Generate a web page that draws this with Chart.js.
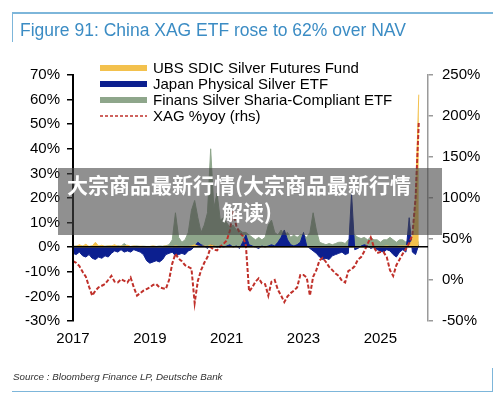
<!DOCTYPE html>
<html>
<head>
<meta charset="utf-8">
<script src="https://cdn.jsdelivr.net/npm/chart.js@4.4.1/dist/chart.umd.min.js"></script>
<style>
  html, body { margin: 0; padding: 0; background: #fff; overflow: hidden; }
  #wrap { position: relative; width: 500px; height: 404px; font-family: "Liberation Sans", Arial, sans-serif; }
  #wrap canvas { position: absolute; left: 0; top: 0; }
  .rule { position: absolute; background: #7db6da; }
  #title { position: absolute; left: 20px; top: 20px; font-size: 17.5px; line-height: 20px; color: #3b8cc4; white-space: nowrap; }
  .leg { position: absolute; left: 100px; height: 16px; display: flex; align-items: center; font-size: 15px; line-height: 16px; color: #000; white-space: nowrap; }
  .leg .sw { width: 47px; height: 6px; margin-right: 6px; }
  .leg svg { margin-right: 6px; }
  #source { position: absolute; left: 13px; top: 371px; font-size: 9.8px; line-height: 12px; font-style: italic; color: #333; white-space: nowrap; }
  #band { position: absolute; left: 58px; top: 168px; width: 384px; height: 67px; background: rgba(70, 70, 70, 0.6); }
  .wm { position: absolute; font-family: "Noto Sans CJK SC", sans-serif; font-weight: 700; font-size: 21px; line-height: 27px; color: #fff; white-space: nowrap; }
</style>
</head>
<body>
<div id="wrap">
  <canvas id="chart"></canvas>
  <div class="rule" style="left:12px; top:12px; width:481px; height:1.6px;"></div>
  <div class="rule" style="left:11.5px; top:12px; width:1.6px; height:30px;"></div>
  <div id="title">Figure 91: China XAG ETF rose to 62% over NAV</div>

  <div class="leg" style="top:60px;"><div class="sw" style="background:#f3c14d"></div>UBS SDIC Silver Futures Fund</div>
  <div class="leg" style="top:76px;"><div class="sw" style="background:#0c1f8f"></div>Japan Physical Silver ETF</div>
  <div class="leg" style="top:92px;"><div class="sw" style="background:#8ea68b"></div>Finans Silver Sharia-Compliant ETF</div>
  <div class="leg" style="top:108px;"><svg width="47" height="4"><line x1="0" y1="2" x2="47" y2="2" stroke="#c0302a" stroke-width="1.4" stroke-dasharray="3,2"/></svg>XAG %yoy (rhs)</div>

  <div id="band"></div>
  <div class="wm" style="left:67px; top:171px;">大宗商品最新行情(大宗商品最新行情</div>
  <div class="wm" style="left:222px; top:198px;">解读)</div>

  <div id="source">Source : Bloomberg Finance LP, Deutsche Bank</div>
  <div class="rule" style="left:12px; top:390.8px; width:481px; height:1.6px;"></div>
  <div class="rule" style="left:491.5px; top:368px; width:1.6px; height:24px;"></div>
</div>
<script>
// monthly observations, Jan 2017 .. Jan 2026
const months = [
  '2017-01','2017-02','2017-03','2017-04','2017-05','2017-06','2017-07','2017-08','2017-09','2017-10','2017-11','2017-12',
  '2018-01','2018-02','2018-03','2018-04','2018-05','2018-06','2018-07','2018-08','2018-09','2018-10','2018-11','2018-12',
  '2019-01','2019-02','2019-03','2019-04','2019-05','2019-06','2019-07','2019-08','2019-09','2019-10','2019-11','2019-12',
  '2020-01','2020-02','2020-03','2020-04','2020-05','2020-06','2020-07','2020-08','2020-09','2020-10','2020-11','2020-12',
  '2021-01','2021-02','2021-03','2021-04','2021-05','2021-06','2021-07','2021-08','2021-09','2021-10','2021-11','2021-12',
  '2022-01','2022-02','2022-03','2022-04','2022-05','2022-06','2022-07','2022-08','2022-09','2022-10','2022-11','2022-12',
  '2023-01','2023-02','2023-03','2023-04','2023-05','2023-06','2023-07','2023-08','2023-09','2023-10','2023-11','2023-12',
  '2024-01','2024-02','2024-03','2024-04','2024-05','2024-06','2024-07','2024-08','2024-09','2024-10','2024-11','2024-12',
  '2025-01','2025-02','2025-03','2025-04','2025-05','2025-06','2025-07','2025-08','2025-09','2025-10','2025-11','2025-12',
  '2026-01'
];

// premium over NAV, % (lhs)
const ubsSdic = [
  0.5, 0.3, 1, 0.4, 1.2, 0.3, 0.5, 2, 0.4, 0.8, 0.3, 0.5,
  0.5, 1, 0.3, 0.5, 0.4, 0.8, 0.3, 0.5, 0.3, 0.4, 0.3, 0.3,
  0.3, 0.5, 0.3, 0.2, 0.3, 0.5, 0.3, 0.2, 0.5, 0.3, 0.2, 0.3,
  0.3, 0.5, 1, 0.5, 0.3, 0.5, 0.3, 1, 0.5, 0.3, 0.2, 0.3,
  0.2, 0.2, 0.2, 0.2, 0.2, 0.2, 0.2, 0.2, 0.2, 0.2, 0.2, 0.2,
  0.2, 0.2, 0.2, 0.2, 0.2, 0.2, 0.2, 0.2, 0.2, 0.2, 0.2, 0.2,
  0.2, 0.2, 0.2, 0.2, 0.2, 0.2, 0.2, 0.2, 0.2, 0.2, 0.2, 0.2,
  0.2, 0.2, 0.2, 0.2, 0.2, 0.2, 0.2, 0.2, 0.2, 0.2, 0.2, 0.2,
  0.3, 0.3, 0.5, 0.3, 0.3, 0.3, 0.5, 0.5, 0.5, 1, 3, 20,
  62
];
const japanPhys = [
  -2.5, -3, -2, -3.5, -4, -3, -4.5, -5, -4, -4.5, -3.5, -4,
  -2.5, -1.5, -2, -1, -2, -1.5, -2, -1, -1.5, -2, -3, -5.5,
  -6.5, -6, -5.5, -6, -5, -3, -2.5, -2, -3.5, -3, -2.5, -3,
  -1.5, -1, 0.5, 2, 1, 0.5, -0.5, 1, 0.5, 0, 0.5, 0,
  0.5, 1, 0, 0.5, -0.5, 2, 5, 1, 0.5, 0, -0.5, 0.5,
  0, 0.5, 1, 0.5, 2, 4, 7, 3, 1, 0.5, 1, 2,
  6, 0.5, -0.5, -1.5, -2.5, -4, -5, -4.5, -5, -3.5, -3, -2.5,
  -2, -3, -2.5, 22, -1, -0.5, 0.5, 1, 0.5, -0.5, 0, -1,
  -1.5, -2, -1, -1.5, -3, -4, -2, -1, -2, 12, -2, -3,
  1
];
const finansSharia = [
  0.3, 0.5, 0.3, 0.5, 0.4, 0.3, 0.5, 0.3, 0.5, 0.3, 0.4, 0.5,
  0.5, 0.3, 0.6, 0.4, 1.5, 0.5, 0.3, 0.4, 0.5, 0.3, 0.4, 0.3,
  0.3, 0.4, 0.3, 0.5, 0.4, 0.6, 1, 3, 14, 4, 2, 3,
  6, 15, 19, 12, 6, 9, 14, 40, 16, 22, 11, 12,
  10, 8, 9, 7, 7, 6, 6, 5, 4, 3, 4, 3,
  4, 9, 11, 6, 5, 7, 5, 6, 4, 5, 4, 5,
  5, 4, 6, 14, 7, 2, 1.5, 1, 1.5, 1, 1.5, 2,
  2, 1.5, 3, 4, 5, 4, 3.5, 4, 3, 4, 3, 3,
  2, 3, 3, 4, 3, 2, 3, 3, 2, 3, 4, 3,
  2
];
// silver price, % year on year (rhs)
const xagYoy = [
  23, 21, 17, 10, 4, -8, -19, -13, -9, -7, -5, 0,
  5, -2, -3, 1, -1, -3, 3, -9, -19, -16, -13, -11,
  -9, -6, -5, -9, -10, -11, 0, 20, 32, 26, 23, 18,
  16, 14, -28, -1, 12, 21, 28, 40, 37, 36, 41, 44,
  48, 60, 85, 66, 58, 54, 42, -14, -9, -2, 2, -4,
  -5, -19, -2, 0, -12, -19, -27, -20, -16, -13, -9, 6,
  6, 3, -19, 4, 12, 24, 27, 22, 16, 12, 8, 5,
  -1, -3, 11, 13, 17, 25, 28, 35, 44, 52, 40, 33,
  34, 34, 28, 12, 5, 18, 25, 32, 38, 45, 55, 100,
  192
];

const yearTicks = [2017, 2019, 2021, 2023, 2025];
const leftTicks = [-30, -20, -10, 0, 10, 20, 30, 40, 50, 60, 70];
const rightTicks = [-50, 0, 50, 100, 150, 200, 250];

const toYear = s => +s.slice(0, 4) + (+s.slice(5, 7) - 1) / 12;
const pts = vals => vals.map((v, i) => ({ x: toYear(months[i]), y: v }));
const setTicks = list => axis => { axis.ticks = list.map(v => ({ value: v })); };

const tickFont = { family: '"Liberation Sans", Arial, sans-serif', size: 15 };

new Chart(document.getElementById('chart'), {
  type: 'line',
  data: {
    datasets: [{
      label: 'UBS SDIC Silver Futures Fund',
      data: pts(ubsSdic),
      yAxisID: 'y',
      fill: 'origin',
      backgroundColor: '#f3c14d',
      borderColor: '#f3c14d',
      borderWidth: 1,
      order: 1
    }, {
      label: 'Japan Physical Silver ETF',
      data: pts(japanPhys),
      yAxisID: 'y',
      fill: 'origin',
      backgroundColor: '#0c1f8f',
      borderColor: '#0c1f8f',
      borderWidth: 1,
      order: 2
    }, {
      label: 'Finans Silver Sharia-Compliant ETF',
      data: pts(finansSharia),
      yAxisID: 'y',
      fill: 'origin',
      backgroundColor: '#8ea68b',
      borderColor: '#8ea68b',
      borderWidth: 1,
      order: 3
    }, {
      label: 'XAG %yoy (rhs)',
      data: pts(xagYoy),
      yAxisID: 'yR',
      fill: false,
      borderColor: '#c0302a',
      borderWidth: 2,
      borderDash: [4, 2],
      order: 0
    }]
  },
  options: {
    responsive: true,
    maintainAspectRatio: false,
    animation: false,
    elements: { point: { radius: 0 }, line: { tension: 0 } },
    layout: { padding: { top: 75, left: 0, right: 0, bottom: 0 } },
    plugins: { legend: { display: false }, tooltip: { enabled: false } },
    scales: {
      x: {
        type: 'linear',
        min: 2017,
        max: 2026.24,
        afterBuildTicks: setTicks(yearTicks),
        afterFit: s => { s.height = 83; },
        grid: { display: false, drawTicks: false },
        border: { display: false },
        ticks: { font: tickFont, color: '#000', padding: 9, maxRotation: 0, callback: v => String(v) }
      },
      y: {
        position: 'left',
        min: -30,
        max: 70,
        afterBuildTicks: setTicks(leftTicks),
        afterFit: s => { s.width = 73; },
        grid: {
          z: 1,
          color: c => c.tick && c.tick.value === 0 ? '#000' : 'rgba(0,0,0,0)',
          lineWidth: 1.5,
          tickColor: '#000',
          tickLength: 6
        },
        // border drawn in the same layer as the grid so it sits on the axis
        border: { color: '#000', width: 2, z: 1 },
        ticks: { font: tickFont, color: '#000', padding: 7, callback: v => v + '%' }
      },
      yR: {
        position: 'right',
        min: -50,
        max: 250,
        afterBuildTicks: setTicks(rightTicks),
        afterFit: s => { s.width = 72; },
        grid: { drawOnChartArea: false, tickColor: '#9a9a9a', tickLength: 5, lineWidth: 1.5 },
        border: { color: '#9a9a9a', width: 1.5 },
        ticks: { font: tickFont, color: '#000', padding: 9, callback: v => v + '%' }
      }
    }
  }
});
</script>
</body>
</html>
